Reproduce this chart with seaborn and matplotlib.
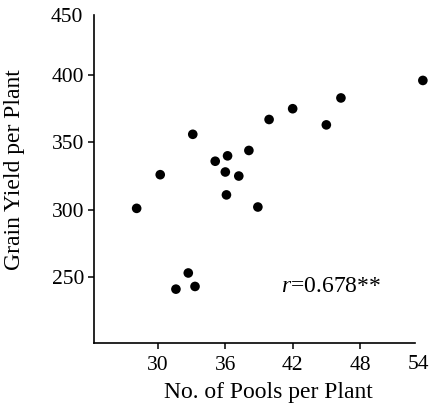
import matplotlib
matplotlib.use("Agg")
import matplotlib.pyplot as plt
import seaborn as sns
import pandas as pd

# Data
pools = [28.1, 30.2, 33.1, 31.6, 32.7, 33.3, 35.1, 36.2, 36.0, 36.1,
         37.2, 38.1, 38.9, 39.9, 42.0, 45.0, 46.3, 53.6]
grain_yield = [301, 326, 356, 241, 253, 243, 336, 340, 328, 311,
               325, 344, 302, 367, 375, 363, 383, 396]
xticks = [30, 36, 42, 48]
yticks = [250, 300, 350, 400]
x_end_label = "54"
y_end_label = "450"
r_text = r"$\it{r}$=0.678**"

df = pd.DataFrame({"pools": pools, "yield": grain_yield})

sns.set_style("ticks")
plt.rcParams["font.family"] = ["Liberation Serif", "DejaVu Serif"]
plt.rcParams["mathtext.fontset"] = "custom"
plt.rcParams["mathtext.rm"] = "Liberation Serif"
plt.rcParams["mathtext.it"] = "Liberation Serif:italic"
plt.rcParams["text.color"] = "black"
plt.rcParams["axes.labelcolor"] = "black"
plt.rcParams["xtick.color"] = "black"
plt.rcParams["ytick.color"] = "black"

fig = plt.figure(figsize=(4.29, 4.09), dpi=100)
ax = fig.add_axes([94 / 429, 66 / 409, (415 - 94) / 429, (343 - 15) / 409])

sns.scatterplot(data=df, x="pools", y="yield", ax=ax, color="black",
                s=48, edgecolor="none", clip_on=False, legend=False)

ax.set_xlim(24.3, 52.9)
ax.set_ylim(201, 444.6)
ax.set_xticks(xticks)
ax.set_yticks(yticks)
ax.tick_params(axis="both", labelsize=15.5, width=1.1, length=4,
               color="black", labelcolor="black")
ax.tick_params(axis="x", pad=5)
ax.tick_params(axis="y", pad=3)
for side in ["top", "right"]:
    ax.spines[side].set_visible(False)
for side in ["left", "bottom"]:
    ax.spines[side].set_linewidth(1.2)
    ax.spines[side].set_color("black")

ax.text(53.2, -0.067, x_end_label, transform=ax.get_xaxis_transform(),
        ha="center", va="center", fontsize=15.5)
ax.text(-0.034, 443, y_end_label, transform=ax.get_yaxis_transform(),
        ha="right", va="center", fontsize=15.5)

ax.text(41.0, 242.6, r_text, ha="left", va="center", fontsize=17)

ax.set_xlabel("No. of Pools per Plant", fontsize=17)
ax.set_ylabel("Grain Yield per Plant", fontsize=17)
ax.xaxis.set_label_coords(0.542, -0.118)
ax.yaxis.set_label_coords(-0.215, 0.53)

fig.savefig("out.png", dpi=100)
